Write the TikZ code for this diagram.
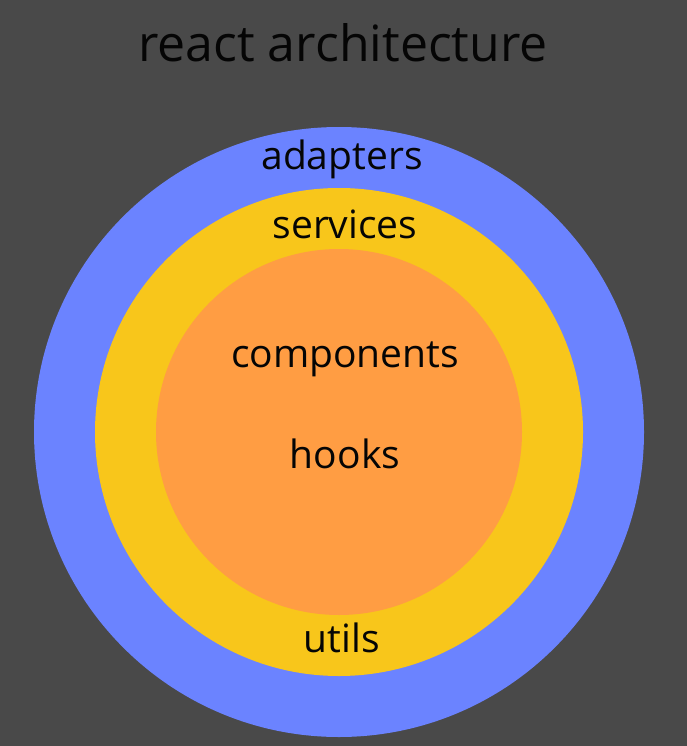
\documentclass[tikz,border=0pt]{standalone}
\usepackage{fontspec}
\setmainfont{Open Sans}
\definecolor{cBack}{HTML}{494949}
\definecolor{cAda}{HTML}{6B83FF}
\definecolor{cSer}{HTML}{F8C61B}
\definecolor{cCom}{HTML}{FF9D43}
\definecolor{ink}{HTML}{050505}
\tikzset{ring/.style={text=ink,anchor=base,font=\fontsize{39}{46}\selectfont}}
\begin{document}
\begin{tikzpicture}[x=1pt,y=1pt]
  \fill[cBack] (0,0) rectangle (687,-746);
  \node[anchor=base,text=ink,font=\fontsize{50}{60}\selectfont] (title) at (343,-62) {react architecture};
  \foreach \r/\c in {305/cAda, 244/cSer, 183/cCom}{
    \fill[\c] (339,-432) circle (\r);
  }
  \node[ring] (adapters) at (342,-170) {adapters};
  \node[ring] (services) at (345,-238) {services};
  \node[ring] (components) at (345,-367) {components};
  \node[ring] (hooks) at (345,-468) {hooks};
  \node[ring] (utils) at (342,-652) {utils};
\end{tikzpicture}
\end{document}
